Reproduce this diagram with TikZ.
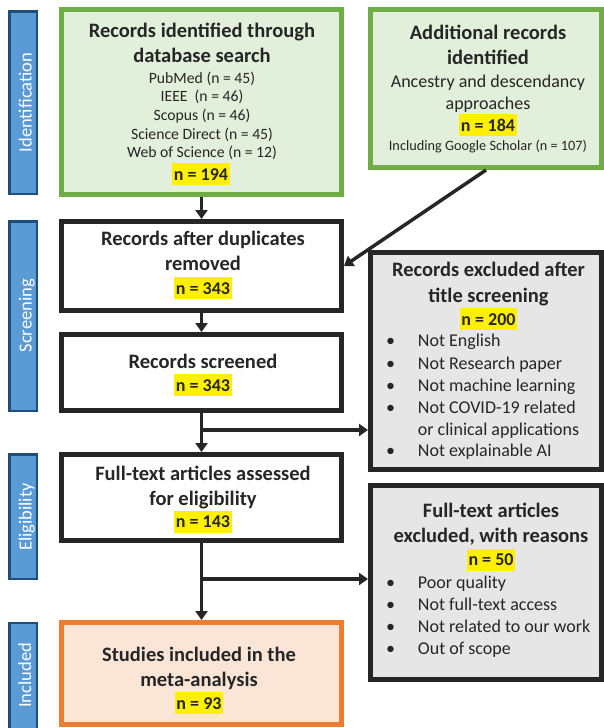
\documentclass[tikz,border=0pt]{standalone}
\usepackage{fontspec}
\setmainfont{Carlito}
\usetikzlibrary{arrows.meta,calc}

\definecolor{ink}{HTML}{262626}
\definecolor{barfill}{HTML}{5B9BD5}
\definecolor{barline}{HTML}{1F4E79}
\definecolor{greenline}{HTML}{70AD47}
\definecolor{greenfill}{HTML}{E2EFDA}
\definecolor{greyfill}{HTML}{E7E6E6}
\definecolor{orangeline}{HTML}{ED7D31}
\definecolor{orangefill}{HTML}{FBE5D6}
\definecolor{hilite}{HTML}{FFF000}

% yellow highlight behind the counts
\newcommand{\hl}[1]{{\setlength{\fboxsep}{0pt}\colorbox{hilite}{\rule[-4.8pt]{0pt}{21.9pt}\hspace{1.5pt}#1\hspace{1.5pt}}}}

\tikzset{
  box/.style={draw, line width=5pt, inner sep=0pt, rectangle},
  greenbox/.style={box, draw=greenline, fill=greenfill},
  whitebox/.style={box, draw=ink, fill=white},
  greybox/.style={box, draw=ink, fill=greyfill},
  orangebox/.style={box, draw=orangeline, fill=orangefill},
  phase/.style={draw=barline, fill=barfill, line width=2.5pt, inner sep=0pt, minimum width=27.5pt},
  phasetext/.style={text=white, font=\fontsize{18.5}{22}\selectfont, rotate=90, anchor=base, inner sep=0pt},
  ttl/.style={text=ink, font=\fontsize{20.5}{25}\selectfont\bfseries, anchor=base, inner sep=0pt},
  count/.style={text=ink, font=\fontsize{18}{22}\selectfont\bfseries, anchor=base, inner sep=0pt},
  small/.style={text=ink, font=\fontsize{15.7}{19}\selectfont, anchor=base, inner sep=0pt},
  body/.style={text=ink, font=\fontsize{18}{22}\selectfont, anchor=base, inner sep=0pt},
  tiny/.style={text=ink, font=\fontsize{14.3}{17}\selectfont, anchor=base, inner sep=0pt},
  item/.style={body, anchor=base west},
  dot/.style={body},
  arr/.style={draw=ink, line width=3.5pt, -{Triangle[width=12pt,length=9pt]}},
}

\begin{document}
\begin{tikzpicture}[x=1pt, y=-1pt]
\useasboundingbox (0,0) rectangle (604,728);

% phase bars on the left
\node[phase, minimum height=182.5pt] (pid) at (23,102.5) {};
\node[phase, minimum height=189.5pt] (psc) at (23,316) {};
\node[phase, minimum height=124.5pt] (pel) at (23,516.5) {};
\node[phase, minimum height=110.75pt] (pin) at (23,678.6) {};
\node[phasetext] (pidt) at (31.5,102.5) {Identification};
\node[phasetext] (psct) at (31.5,315.8) {Screening};
\node[phasetext] (pelt) at (31.5,517) {Eligibility};
\node[phasetext] (pint) at (31,675.3) {Included};

% boxes
\node[greenbox, minimum width=280pt, minimum height=185pt] (b1) at (201.5,102) {};
\node[greenbox, minimum width=231pt, minimum height=158pt] (b2) at (486,88.5) {};
\node[whitebox, minimum width=280pt, minimum height=89pt] (b3) at (201.5,266) {};
\node[whitebox, minimum width=280pt, minimum height=76pt] (b4) at (201.5,372.5) {};
\node[whitebox, minimum width=280pt, minimum height=86pt] (b5) at (201.5,497.5) {};
\node[orangebox, minimum width=280pt, minimum height=102pt] (b6) at (201.5,673.5) {};
\node[greybox, minimum width=231pt, minimum height=217pt] (b7) at (486,361) {};
\node[greybox, minimum width=231pt, minimum height=194pt] (b8) at (486,582.5) {};

% database search
\node[ttl] (t1a) at (202,37) {Records identified through};
\node[ttl] (t1b) at (202,62.3) {database search};
\node[small] (t1c) at (202,83.3) {PubMed (n = 45)};
\node[small] (t1d) at (202,101.7) {IEEE\ \ (n = 46)};
\node[small] (t1e) at (202,120) {Scopus (n = 46)};
\node[small] (t1f) at (202,139.3) {Science Direct (n = 45)};
\node[small] (t1g) at (202,157.7) {Web of Science (n = 12)};
\node[count] (t1n) at (201,180) {\hl{n = 194}};

% additional records
\node[ttl] (t2a) at (488,39) {Additional records};
\node[ttl] (t2b) at (488,64) {identified};
\node[body] (t2c) at (488,87.3) {Ancestry and descendancy};
\node[body] (t2d) at (488,109.3) {approaches};
\node[count] (t2n) at (488,131) {\hl{n = 184}};
\node[tiny] (t2e) at (488,150.7) {Including Google Scholar (n = 107)};

% duplicates removed
\node[ttl] (t3a) at (203,245.7) {Records after duplicates};
\node[ttl] (t3b) at (203,270.7) {removed};
\node[count] (t3n) at (203,294) {\hl{n = 343}};

% screened
\node[ttl] (t4a) at (203,368.3) {Records screened};
\node[count] (t4n) at (203,391) {\hl{n = 343}};

% full-text assessed
\node[ttl] (t5a) at (203,480) {Full-text articles assessed};
\node[ttl] (t5b) at (203,505) {for eligibility};
\node[count] (t5n) at (203,527.7) {\hl{n = 143}};

% included
\node[ttl] (t6a) at (199,661.7) {Studies included in the};
\node[ttl] (t6b) at (199,686.7) {meta-analysis};
\node[count] (t6n) at (199,709.3) {\hl{n = 93}};

% excluded after title screening
\node[ttl] (t7a) at (488.5,276.7) {Records excluded after};
\node[ttl] (t7b) at (488.5,302.3) {title screening};
\node[count] (t7n) at (488.5,325) {\hl{n = 200}};
\node[dot] (d7a) at (390.7,346.7) {\textbullet};
\node[item] (i7a) at (417.7,346.7) {Not English};
\node[dot] (d7b) at (390.7,369) {\textbullet};
\node[item] (i7b) at (417.7,369) {Not Research paper};
\node[dot] (d7c) at (390.7,391) {\textbullet};
\node[item] (i7c) at (417.7,391) {Not machine learning};
\node[dot] (d7d) at (390.7,413.3) {\textbullet};
\node[item] (i7d) at (417.7,413.3) {Not COVID-19 related};
\node[item] (i7e) at (417.7,435) {or clinical applications};
\node[dot] (d7f) at (390.7,456.7) {\textbullet};
\node[item] (i7f) at (417.7,456.7) {Not explainable AI};

% full-text excluded
\node[ttl] (t8a) at (491,517.3) {Full-text articles};
\node[ttl] (t8b) at (491,542.7) {excluded, with reasons};
\node[count] (t8n) at (491,565.7) {\hl{n = 50}};
\node[dot] (d8a) at (390.7,588.3) {\textbullet};
\node[item] (i8a) at (417.7,588.3) {Poor quality};
\node[dot] (d8b) at (390.7,610) {\textbullet};
\node[item] (i8b) at (417.7,610) {Not full-text access};
\node[dot] (d8c) at (390.7,632.3) {\textbullet};
\node[item] (i8c) at (417.7,632.3) {Not related to our work};
\node[dot] (d8d) at (390.7,654) {\textbullet};
\node[item] (i8d) at (417.7,654) {Out of scope};

% connectors
\coordinate (j1) at (201.5,430);
\coordinate (j2) at (201.5,579);
\draw[arr] (b1.south) -- (b3.north);
\draw[arr] (b2.south) -- (b3.east);
\draw[arr] (b3.south) -- (b4.north);
\draw[arr] (b4.south) -- (b5.north);
\draw[arr] (j1) -- (j1 -| b7.west);
\draw[arr] (b5.south) -- (b6.north);
\draw[arr] (j2) -- (j2 -| b8.west);
\end{tikzpicture}
\end{document}
